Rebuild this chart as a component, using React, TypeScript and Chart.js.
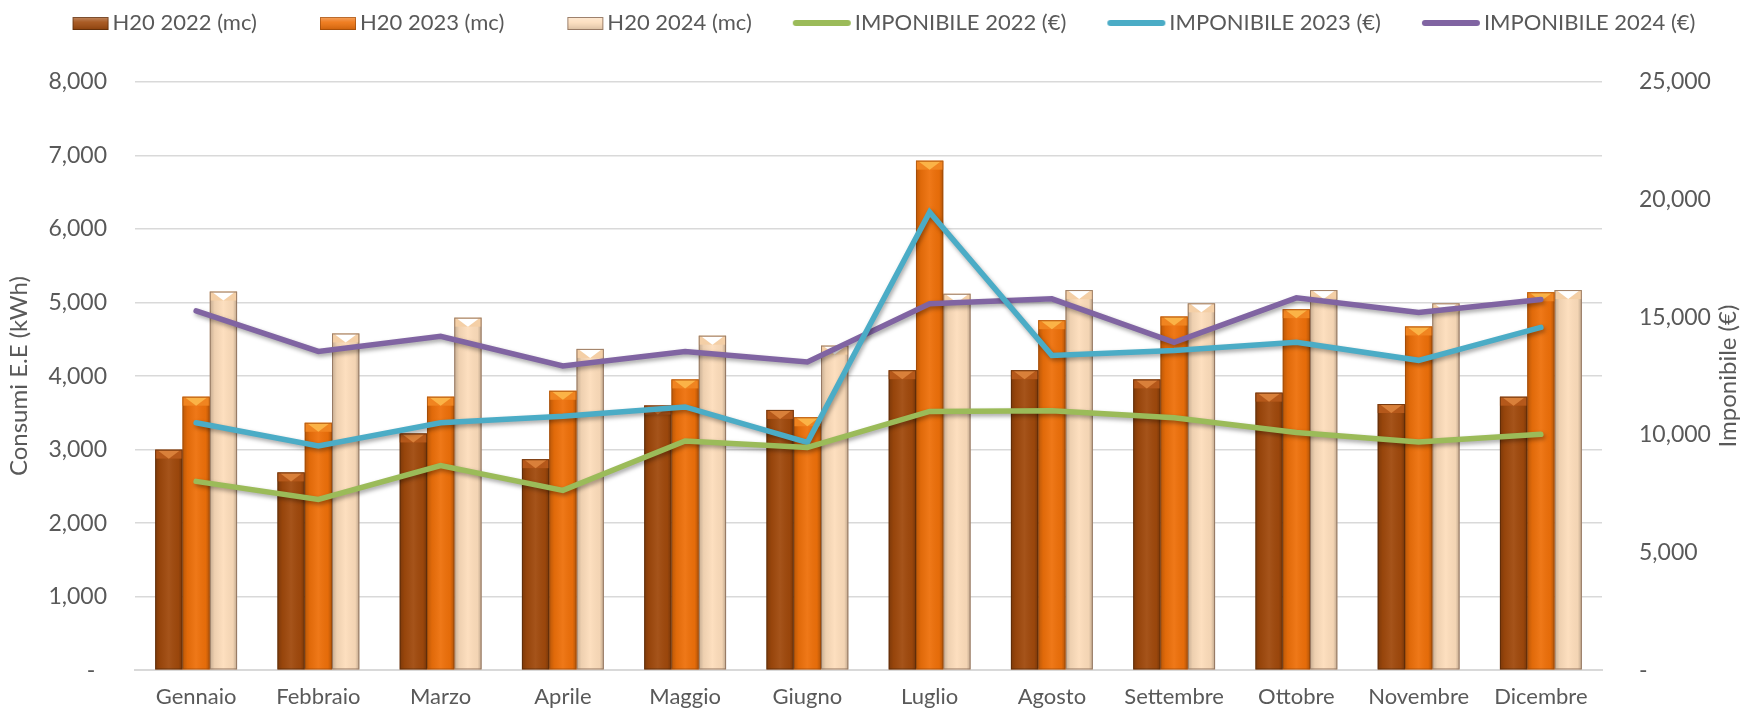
import React, { useEffect, useRef } from 'react';
import { Chart, registerables } from 'chart.js';

Chart.register(...registerables);

const months = ['Gennaio', 'Febbraio', 'Marzo', 'Aprile', 'Maggio', 'Giugno', 'Luglio', 'Agosto', 'Settembre', 'Ottobre', 'Novembre', 'Dicembre'];

const h2o2022 = [3000, 2690, 3220, 2870, 3600, 3540, 4080, 4080, 3955, 3775, 3620, 3720];
const h2o2023 = [3720, 3365, 3720, 3800, 3955, 3440, 6930, 4760, 4810, 4910, 4675, 5140];
const h2o2024 = [5150, 4580, 4795, 4370, 4550, 4415, 5120, 5170, 4990, 5170, 4990, 5170];

const imp2022 = [8025, 7255, 8700, 7645, 9740, 9470, 11000, 11030, 10725, 10100, 9700, 10025];
const imp2023 = [10515, 9535, 10515, 10790, 11190, 9680, 19465, 13380, 13590, 13940, 13170, 14570];
const imp2024 = [15270, 13550, 14190, 12930, 13550, 13100, 15575, 15785, 13940, 15825, 15200, 15760];

const seriesLabels = ['H20 2022 (mc)', 'H20 2023 (mc)', 'H20 2024 (mc)', 'IMPONIBILE 2022 (€)', 'IMPONIBILE 2023 (€)', 'IMPONIBILE 2024 (€)'];

const FONT = 'Lato, "Open Sans", sans-serif';
const TEXT = '#595959';

const barStyles = [
  { fill: '#A0490C', band: '#B5581A', tri: '#D9803A', edge: 'rgba(70,35,10,0.55)' },
  { fill: '#EE700A', band: '#F08420', tri: '#FBB347', edge: 'rgba(140,65,10,0.55)' },
  { fill: '#FDDDBB', band: '#F4CFA6', tri: '#FFFFFF', edge: 'rgba(140,110,90,0.85)' },
];
const lineColors = ['#9BBB59', '#4BACC6', '#8064A2'];

const LEG_FS = 22;
const LEG_B = 80;

function makeSwatch(kind: 'bar' | 'line', idx: number): HTMLCanvasElement {
  const c = document.createElement('canvas');
  const W = LEG_B + LEG_FS;
  c.width = W;
  c.height = 16;
  const g = c.getContext('2d')!;
  const right = W - 4;
  if (kind === 'bar') {
    const s = barStyles[idx];
    const l = right - 36;
    const t = 2, h = 13;
    g.fillStyle = s.fill;
    g.fillRect(l, t, 36, h);
    const gr = g.createLinearGradient(0, t, 0, t + h);
    gr.addColorStop(0, 'rgba(255,255,255,0.35)');
    gr.addColorStop(0.4, 'rgba(255,255,255,0.1)');
    gr.addColorStop(1, 'rgba(0,0,0,0.15)');
    g.fillStyle = gr;
    g.fillRect(l, t, 36, h);
    g.strokeStyle = s.edge;
    g.lineWidth = 1;
    g.strokeRect(l + 0.5, t + 0.5, 35, h - 1);
  } else {
    g.strokeStyle = lineColors[idx];
    g.lineWidth = 6;
    g.lineCap = 'round';
    g.beginPath();
    g.moveTo(right - 55, 8);
    g.lineTo(right - 3, 8);
    g.stroke();
  }
  return c;
}

const barFx = {
  id: 'barFx',
  afterDatasetDraw(chart: any, args: any) {
    const meta = args.meta;
    if (meta.type !== 'bar') return;
    const s = barStyles[meta.index];
    const ctx = chart.ctx;
    ctx.save();
    meta.data.forEach((el: any) => {
      const { x, y, base, width } = el.getProps(['x', 'y', 'base', 'width'], true);
      const l = x - width / 2, r = x + width / 2;
      const t = Math.min(y, base), b = Math.max(y, base);
      const g = ctx.createLinearGradient(l, 0, r, 0);
      g.addColorStop(0, 'rgba(0,0,0,0.22)');
      g.addColorStop(0.18, 'rgba(0,0,0,0.06)');
      g.addColorStop(0.5, 'rgba(255,255,255,0.06)');
      g.addColorStop(0.85, 'rgba(0,0,0,0.04)');
      g.addColorStop(1, 'rgba(0,0,0,0.25)');
      ctx.fillStyle = g;
      ctx.fillRect(l, t, width, b - t);
      const h = Math.min(9, b - t);
      ctx.fillStyle = s.band;
      ctx.fillRect(l, t, width, h);
      ctx.beginPath();
      ctx.moveTo(l + 3, t + 1);
      ctx.lineTo(r - 3, t + 1);
      ctx.lineTo(x, t + h);
      ctx.closePath();
      ctx.fillStyle = s.tri;
      ctx.fill();
      ctx.strokeStyle = s.edge;
      ctx.lineWidth = 1;
      ctx.strokeRect(l + 0.5, t + 0.5, width - 1, b - t - 1);
    });
    ctx.restore();
  },
};

const lineShadow = {
  id: 'lineShadow',
  beforeDatasetDraw(chart: any, args: any) {
    if (args.meta.type !== 'line') return;
    const ctx = chart.ctx;
    ctx.save();
    ctx.shadowColor = 'rgba(0,0,0,0.35)';
    ctx.shadowBlur = 4;
    ctx.shadowOffsetX = 1.5;
    ctx.shadowOffsetY = 2.5;
  },
  afterDatasetDraw(chart: any, args: any) {
    if (args.meta.type !== 'line') return;
    chart.ctx.restore();
  },
};

const rightTitle = {
  id: 'rightTitle',
  afterDraw(chart: any) {
    const s = chart.scales.y1;
    const ctx = chart.ctx;
    const a = chart.chartArea;
    ctx.save();
    ctx.font = `24px ${FONT}`;
    ctx.fillStyle = TEXT;
    ctx.textAlign = 'center';
    ctx.textBaseline = 'middle';
    ctx.translate(s.right - 15, (a.top + a.bottom) / 2);
    ctx.rotate(-Math.PI / 2);
    ctx.fillText('Imponibile (€)', 0, 0);
    ctx.restore();
  },
};

const legendFit = {
  id: 'legendFit',
  beforeLayout(chart: any) {
    const lg = chart.legend;
    if (lg && !lg.__patched) {
      const origFit = lg.fit.bind(lg);
      lg.fit = function () {
        origFit();
        this.height = 82;
      };
      const origDraw = lg.draw.bind(lg);
      lg.draw = function () {
        const ctx = this.ctx;
        ctx.save();
        ctx.translate(-13, 0);
        origDraw();
        ctx.restore();
      };
      lg.__patched = true;
    }
  },
};

export default function App() {
  const ref = useRef<HTMLCanvasElement | null>(null);

  useEffect(() => {
    document.body.style.margin = '0';
    const canvas = ref.current!;
    const swatches = [
      makeSwatch('bar', 0), makeSwatch('bar', 1), makeSwatch('bar', 2),
      makeSwatch('line', 0), makeSwatch('line', 1), makeSwatch('line', 2),
    ];
    const barData = [h2o2022, h2o2023, h2o2024];
    const lineData = [imp2022, imp2023, imp2024];

    const datasets: any[] = [
      ...barData.map((d, i) => ({
        type: 'bar',
        label: seriesLabels[i],
        data: d,
        yAxisID: 'y',
        backgroundColor: barStyles[i].fill,
        borderWidth: 0,
        categoryPercentage: 0.67,
        barPercentage: 1.0,
        order: 2,
      })),
      ...lineData.map((d, i) => ({
        type: 'line',
        label: seriesLabels[i + 3],
        data: d,
        yAxisID: 'y1',
        borderColor: lineColors[i],
        backgroundColor: lineColors[i],
        borderWidth: 5.5,
        pointRadius: 0,
        pointHoverRadius: 0,
        tension: 0,
        fill: false,
        borderCapStyle: 'round',
        borderJoinStyle: 'miter',
        order: 1,
      })),
    ];

    const chart = new Chart(canvas, {
      type: 'bar',
      data: { labels: months, datasets },
      plugins: [legendFit, barFx, lineShadow, rightTitle],
      options: {
        responsive: false,
        animation: false,
        layout: { padding: { left: 0, right: 0, top: 0, bottom: 0 } },
        plugins: {
          tooltip: { enabled: false },
          legend: {
            position: 'top',
            align: 'center',
            labels: {
              usePointStyle: true,
              pointStyleWidth: LEG_B,
              boxHeight: 12,
              padding: 12,
              color: TEXT,
              font: { family: FONT, size: LEG_FS },
              generateLabels: (ch: any) =>
                ch.data.datasets.map((ds: any, i: number) => ({
                  text: ds.label,
                  fillStyle: 'transparent',
                  strokeStyle: 'transparent',
                  lineWidth: 0,
                  pointStyle: swatches[i],
                  hidden: !ch.isDatasetVisible(i),
                  datasetIndex: i,
                  fontColor: TEXT,
                })),
            },
          },
        },
        scales: {
          x: {
            grid: { display: false, drawTicks: false },
            border: { display: true, color: '#D9D9D9', width: 2 },
            ticks: { color: TEXT, font: { family: FONT, size: 22 }, padding: 14, maxRotation: 0, autoSkip: false },
            afterFit: (s: any) => { s.height = 42; },
          },
          y: {
            position: 'left',
            min: 0,
            max: 8000,
            grid: { color: '#D9D9D9', lineWidth: 1.5, drawTicks: false },
            border: { display: false },
            ticks: {
              stepSize: 1000,
              padding: 28,
              color: TEXT,
              font: { family: FONT, size: 23 },
              callback: (v: any) => (Number(v) === 0 ? '-  ' : Number(v).toLocaleString('en-US')),
            },
            title: {
              display: true,
              text: 'Consumi E.E (kWh)',
              color: TEXT,
              font: { family: FONT, size: 24 },
              padding: { top: 5, bottom: 0 },
            },
            afterFit: (s: any) => { s.width = 135; },
          },
          y1: {
            position: 'right',
            min: 0,
            max: 25000,
            grid: { display: false, drawTicks: false },
            border: { display: false },
            ticks: {
              stepSize: 5000,
              padding: 37,
              color: TEXT,
              font: { family: FONT, size: 23 },
              callback: (v: any) => (Number(v) === 0 ? '-' : Number(v).toLocaleString('en-US')),
            },
            title: { display: false },
            afterFit: (s: any) => { s.width = 141; },
          },
        },
      } as any,
    });
    return () => chart.destroy();
  }, []);

  return (
    <div style={{ width: 1743, height: 721, background: '#fff' }}>
      <canvas ref={ref} width={1743} height={721} style={{ display: 'block', width: 1743, height: 721 }} />
    </div>
  );
}
